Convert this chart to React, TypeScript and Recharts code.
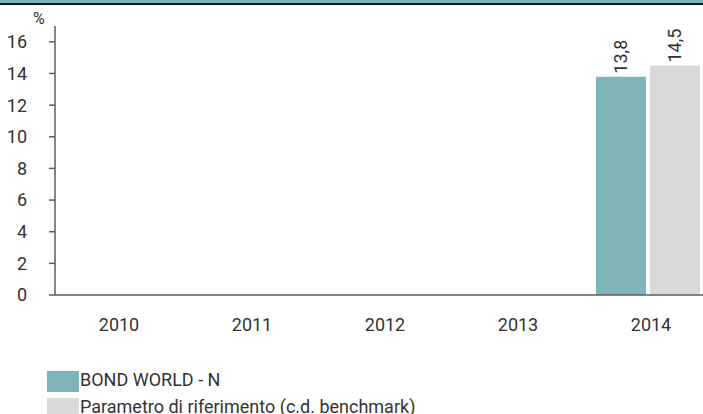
import { BarChart, Bar, XAxis, YAxis, LabelList } from "recharts";

const years = ["2010", "2011", "2012", "2013", "2014"];
const fundValues: (number | null)[] = [null, null, null, null, 13.8];
const benchmarkValues: (number | null)[] = [null, null, null, null, 14.5];
const yTicks = [0, 2, 4, 6, 8, 10, 12, 14, 16];

const FUND_NAME = "BOND WORLD - N";
const BENCH_NAME = "Parametro di riferimento (c.d. benchmark)";

const TEAL = "#7fb4b9";
const GREY = "#d9d9d9";
const INK = "#333333";
const AXIS = "#5c5c5c";
const FONT = "Roboto, 'Noto Sans', sans-serif";
const FS = 18;

const data = years.map((year, i) => ({
  year,
  fund: fundValues[i],
  bench: benchmarkValues[i],
}));

function VerticalLabel(props: any) {
  const { x, y, width, value } = props;
  if (value == null) return null;
  const cx = Number(x) + Number(width) / 2 + 6.5;
  const cy = Number(y) - 3;
  return (
    <text
      x={cx}
      y={cy}
      transform={`rotate(-90 ${cx} ${cy})`}
      textAnchor="start"
      fontSize={FS}
      fontFamily={FONT}
      fill={INK}
    >
      {String(value).replace(".", ",")}
    </text>
  );
}

function Swatch({ color, label }: { color: string; label: string }) {
  return (
    <div style={{ display: "flex", alignItems: "flex-start", height: 27 }}>
      <div style={{ width: 32, height: 21, background: color, marginRight: 1, flex: "none" }} />
      <span
        style={{
          fontSize: FS,
          color: INK,
          fontFamily: FONT,
          lineHeight: "21px",
          marginTop: -2,
          whiteSpace: "nowrap",
        }}
      >
        {label}
      </span>
    </div>
  );
}

export default function App() {
  return (
    <div
      style={{
        position: "fixed",
        left: 0,
        top: 0,
        width: 703,
        height: 414,
        overflow: "hidden",
        background: "#fff",
      }}
    >
      <div style={{ position: "absolute", left: 0, top: 0, width: 703, height: 3, background: TEAL }} />
      <div style={{ position: "absolute", left: 0, top: 3, width: 703, height: 2, background: "#1a1a1a" }} />
      <div
        style={{
          position: "absolute",
          left: 33,
          top: 9,
          fontSize: 16,
          fontFamily: FONT,
          color: INK,
        }}
      >
        %
      </div>
      <div style={{ position: "absolute", left: 0, top: 0 }}>
        <BarChart
          width={714}
          height={414}
          data={data}
          margin={{ top: 26, right: 0, bottom: 89, left: 0 }}
          barCategoryGap={15}
          barGap={4}
        >
          <XAxis
            dataKey="year"
            height={30}
            padding={{ left: -6, right: 0 }}
            axisLine={{ stroke: AXIS, strokeWidth: 1.5 }}
            tickLine={false}
            tickSize={6}
            tickMargin={17}
            tick={{ fill: INK, fontSize: FS, fontFamily: FONT, dx: 3.5 }}
          />
          <YAxis
            width={55}
            domain={[0, 17]}
            ticks={yTicks}
            interval={0}
            axisLine={{ stroke: AXIS, strokeWidth: 1.5 }}
            tickLine={{ stroke: AXIS, strokeWidth: 1.5 }}
            tickSize={6}
            tickMargin={22}
            tick={{ fill: INK, fontSize: FS, fontFamily: FONT }}
          />
          <Bar dataKey="fund" name={FUND_NAME} fill={TEAL} isAnimationActive={false}>
            <LabelList dataKey="fund" content={<VerticalLabel />} />
          </Bar>
          <Bar dataKey="bench" name={BENCH_NAME} fill={GREY} isAnimationActive={false}>
            <LabelList dataKey="bench" content={<VerticalLabel />} />
          </Bar>
        </BarChart>
      </div>
      <div style={{ position: "absolute", left: 47, top: 371 }}>
        <Swatch color={TEAL} label={FUND_NAME} />
        <Swatch color={GREY} label={BENCH_NAME} />
      </div>
    </div>
  );
}
